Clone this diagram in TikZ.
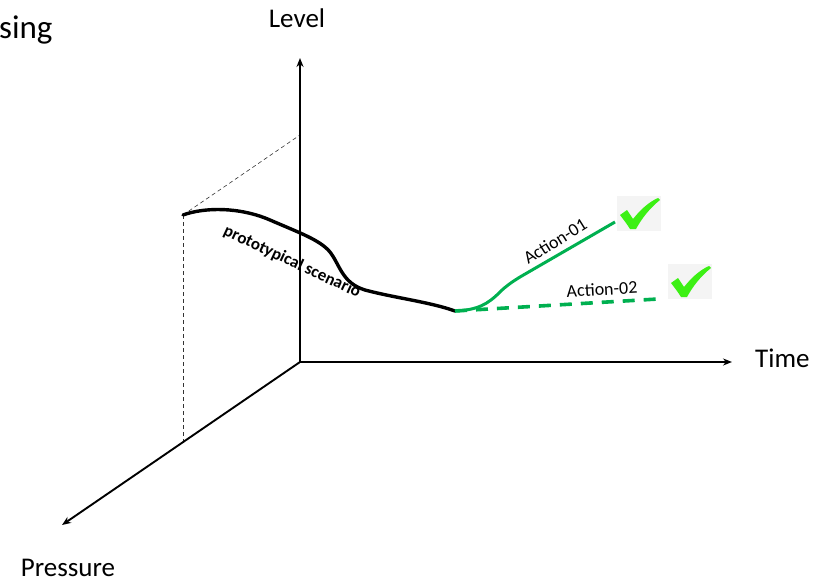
\documentclass[tikz,border=0pt]{standalone}
\usepackage{fontspec}
\setmainfont{Carlito}
\usetikzlibrary{arrows.meta}
\definecolor{actgreen}{HTML}{00B050}
\definecolor{chkgreen}{HTML}{3CF014}
\definecolor{chkbg}{HTML}{F4F4F4}
\tikzset{
  axis/.style={line width=1.9pt,-{Stealth[length=9pt,width=7pt]}},
  guide/.style={line width=0.6pt,dash pattern=on 4pt off 3pt,black!80},
  axlabel/.style={font=\fontsize{27}{30}\selectfont,inner sep=0pt},
  actlabel/.style={font=\fontsize{18}{20}\selectfont,inner sep=0pt},
  chk/.pic={
    \fill[chkbg] (0,0) rectangle (44,35);
    \fill[chkgreen] (3,19) -- (10,14) .. controls (12,17) and (14,20) .. (16,23)
      .. controls (24,13) and (32,6) .. (41,2) -- (43,4)
      .. controls (33,12) and (25,22) .. (19,33) -- (13,33)
      .. controls (10,28) and (6,23) .. cycle;
  }
}
\begin{document}
\begin{tikzpicture}[x=1pt,y=-1pt]
\useasboundingbox (0,0) rectangle (813,580);
\coordinate (O) at (300,362);
\coordinate (Ltop) at (300,58);
\coordinate (Tend) at (732,362);
\coordinate (Pend) at (62,525);
\coordinate (S) at (183,215);
\coordinate (Sup) at (300,135);
\coordinate (Sdown) at (183,442);
\coordinate (J) at (455,311);
\coordinate (A1) at (615,222);
\coordinate (A2) at (658,299);

\node[font=\fontsize{33}{36}\selectfont,anchor=base west,inner sep=0pt] (sing) at (-1,39) {sing};
\node[axlabel,anchor=base] (level) at (297,28) {Level};
\node[axlabel,anchor=base west] (time) at (755,367) {Time};
\node[axlabel,anchor=base] (press) at (68,576) {Pressure};

\draw[guide] (S) -- (Sup);
\draw[guide] (S) -- (Sdown);

\draw[axis] (O) -- (Ltop);
\draw[axis] (O) -- (Tend);
\draw[axis] (O) -- (Pend);

\draw[line width=3.4pt,line cap=round] (S) .. controls (205,207) and (240,207) .. (270,220)
  .. controls (300,233) and (320,240) .. (330,252)
  .. controls (340,265) and (342,283) .. (365,290)
  .. controls (395,298) and (430,302) .. (J);

\draw[actgreen,line width=3pt] (J) .. controls (478,310) and (488,304) .. (500,292)
  .. controls (506,286) and (512,282) .. (520,277) -- (A1);
\draw[actgreen,line width=3.6pt,dash pattern=on 12pt off 9pt] (J) -- (A2);

\node[font=\bfseries\fontsize{17}{19}\selectfont,rotate=-25,inner sep=0pt] (proto) at (292,262) {prototypical scenario};
\node[actlabel,rotate=32] (act1) at (555,241) {Action-01};
\node[actlabel,rotate=3] (act2) at (602,289) {Action-02};

\pic at (617,196) {chk};
\pic at (668,264) {chk};
\end{tikzpicture}
\end{document}
